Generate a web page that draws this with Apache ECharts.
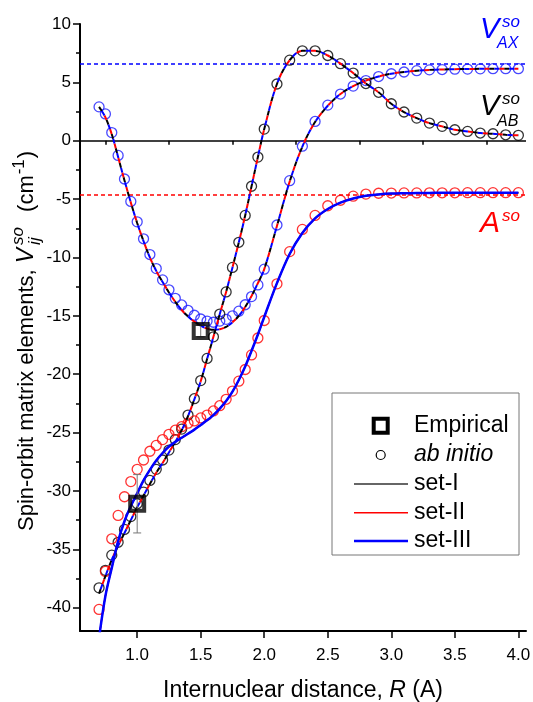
<!DOCTYPE html>
<html>
<head>
<meta charset="utf-8">
<script src="https://cdn.jsdelivr.net/npm/echarts@6/dist/echarts.min.js"></script>
<style>html,body{margin:0;padding:0;background:#fff}#c{width:533px;height:702px}</style>
</head>
<body>
<div id="c"></div>
<script>
// ---------------- data ----------------
const R = [0.70,0.75,0.80,0.85,0.90,0.95,1.00,1.05,1.10,1.15,1.20,1.25,1.30,1.35,1.40,1.45,1.50,1.55,1.60,1.65,1.70,1.75,1.80,1.85,1.90,1.95,2.00,
           2.1,2.2,2.3,2.4,2.5,2.6,2.7,2.8,2.9,3.0,3.1,3.2,3.3,3.4,3.5,3.6,3.7,3.8,3.9,4.0];
// ab initio points
const vAX = [2.9,2.3,0.7,-1.26,-3.28,-5.2,-6.95,-8.4,-9.75,-10.95,-11.92,-12.77,-13.5,-14.07,-14.53,-14.95,-15.27,-15.45,-15.55,-15.45,-15.3,-15.0,-14.6,-14.05,-13.35,-12.35,-11.0,
             -7.22,-3.42,-0.47,1.65,3.05,4.0,4.68,5.15,5.5,5.74,5.89,6.0,6.07,6.1,6.13,6.14,6.16,6.17,6.17,6.17];
const vAB = [-38.3,-36.8,-35.5,-34.4,-33.3,-32.2,-31.1,-30.1,-29.1,-28.15,-27.35,-26.5,-25.6,-24.7,-23.5,-22.1,-20.55,-18.65,-16.8,-14.85,-12.95,-10.85,-8.7,-6.4,-3.9,-1.4,1.0,
             4.86,6.9,7.7,7.7,7.3,6.6,5.8,4.9,4.15,3.17,2.46,1.94,1.51,1.23,0.94,0.8,0.66,0.6,0.51,0.46];
const aSO = [-40.15,-36.9,-34.1,-32.1,-30.5,-29.2,-28.15,-27.35,-26.6,-26.1,-25.6,-25.15,-24.8,-24.5,-24.2,-24.0,-23.75,-23.5,-23.15,-22.7,-22.15,-21.45,-20.6,-19.6,-18.35,-16.9,-15.4,
             -12.26,-9.5,-7.6,-6.4,-5.57,-5.1,-4.75,-4.57,-4.5,-4.48,-4.47,-4.47,-4.46,-4.46,-4.46,-4.45,-4.45,-4.45,-4.45,-4.45];
// fitted curves (set-I, set-II, set-III nearly coincide)
const fitAX = [2.9,2.0,0.55,-1.4,-3.4,-5.3,-7.05,-8.6,-10.0,-11.15,-12.1,-13.0,-13.8,-14.5,-15.05,-15.5,-15.85,-16.1,-16.2,-16.15,-15.95,-15.55,-15.0,-14.25,-13.3,-12.2,-11.0,
               -7.3,-3.5,-0.5,1.6,3.0,4.0,4.68,5.15,5.5,5.74,5.89,6.0,6.07,6.1,6.13,6.14,6.16,6.17,6.17,6.17];
const fitAB = [-38.8,-37.3,-35.9,-34.7,-33.6,-32.5,-31.4,-30.4,-29.4,-28.45,-27.6,-26.7,-25.8,-24.8,-23.6,-22.15,-20.6,-18.7,-16.8,-14.85,-12.95,-10.85,-8.7,-6.4,-3.9,-1.4,1.0,
               4.86,6.9,7.7,7.7,7.3,6.6,5.8,4.9,4.15,3.17,2.46,1.94,1.51,1.23,0.94,0.8,0.66,0.6,0.51,0.46];
const fitA  = [-42.6,-39.0,-36.6,-34.3,-32.6,-31.3,-30.2,-29.1,-28.2,-27.4,-26.75,-26.2,-25.8,-25.45,-25.1,-24.75,-24.35,-23.95,-23.5,-22.95,-22.3,-21.5,-20.5,-19.35,-18.0,-16.6,-15.1,
               -12.2,-9.7,-7.9,-6.65,-5.85,-5.3,-4.95,-4.72,-4.6,-4.53,-4.5,-4.48,-4.47,-4.46,-4.46,-4.45,-4.45,-4.45,-4.45,-4.45];
// empirical values with error bars
const empR = [1.0, 1.5];
const empV = [-31.1, -16.3];
const empErr = [2.5, 0.5];
// asymptotes
const asymAX = 6.6;
const asymA = -4.65;
// axis ticks
const xMajor = [1.0,1.5,2.0,2.5,3.0,3.5,4.0];
const xMinor = [0.75,1.25,1.75,2.25,2.75,3.25,3.75];
const yMajor = [-40,-35,-30,-25,-20,-15,-10,-5,0,5,10];
const yMinor = [-37.5,-32.5,-27.5,-22.5,-17.5,-12.5,-7.5,-2.5,2.5,7.5];

// ---------------- chart ----------------
const FONT = '"Liberation Sans", Arial, Helvetica, sans-serif';
const BLUE = '#0000ff', RED = '#ff0000', BLACK = '#000000';
const pairs = (xs, ys) => xs.map((x, i) => [x, ys[i]]);

const cv = document.createElement('canvas').getContext('2d');
function tw(t, f) { cv.font = f; return cv.measureText(t).width; }

const chart = echarts.init(document.getElementById('c'), null, {renderer: 'canvas', width: 533, height: 702});

function circles(name, ys, color) {
  return {type: 'scatter', name, data: pairs(R, ys), symbol: 'circle', symbolSize: 10, z: 2,
    itemStyle: {color: 'rgba(0,0,0,0)', borderColor: color, borderWidth: 1.3}, silent: true};
}
function fitLine(ys, color, dashOff, dashed, width, z) {
  return {type: 'line', data: pairs(R, ys), symbol: 'none', smooth: 0.35, z: z || 3, silent: true,
    lineStyle: {color, width: width || 2, type: dashed ? [5, 10] : 'solid', dashOffset: dashOff || 0}};
}

const series = [
  Object.assign(circles('ab initio AX', vAX, '#1a1aff'), {
    markLine: {silent: true, symbol: ['none', 'none'], label: {show: false}, z: 1,
      data: [
        {yAxis: 0, lineStyle: {color: BLACK, type: 'solid', width: 1.6}},
        {yAxis: asymAX, lineStyle: {color: BLUE, type: [4, 3], width: 1.5}},
        {yAxis: asymA, lineStyle: {color: RED, type: [4, 3], width: 1.5}}
      ]}
  }),
  circles('ab initio AB', vAB, BLACK),
  circles('ab initio A', aSO, RED),
  // V_AX fits
  fitLine(fitAX, BLACK, 0, true), fitLine(fitAX, RED, 5, true), fitLine(fitAX, BLUE, 10, true),
  // V_AB fits
  fitLine(fitAB, BLACK, 0, true), fitLine(fitAB, RED, 5, true), fitLine(fitAB, BLUE, 10, true),
  // A fits
  fitLine(fitA, BLACK, 0, false, 1.2), fitLine(fitA, RED, 0, false, 1.5), fitLine(fitA, BLUE, 0, false, 2.5, 4),
  // error bars
  {type: 'custom', z: 5, silent: true, data: empR.map((x, i) => [x, empV[i], empErr[i]]),
    renderItem: function (params, api) {
      const x = api.value(0), y = api.value(1), e = api.value(2);
      const t = api.coord([x, y + e]), b = api.coord([x, y - e]);
      const st = {stroke: '#777', lineWidth: 1};
      return {type: 'group', children: [
        {type: 'line', shape: {x1: t[0], y1: t[1], x2: b[0], y2: b[1]}, style: st},
        {type: 'line', shape: {x1: t[0] - 4, y1: t[1], x2: t[0] + 4, y2: t[1]}, style: st},
        {type: 'line', shape: {x1: b[0] - 4, y1: b[1], x2: b[0] + 4, y2: b[1]}, style: st}
      ]};
    }},
  {type: 'scatter', name: 'Empirical', data: pairs(empR, empV), symbol: 'rect', symbolSize: 14, z: 6, silent: true,
    itemStyle: {color: 'rgba(0,0,0,0)', borderColor: BLACK, borderWidth: 4}}
];

// y-axis title (rotated) with stacked super/subscripts
const F22 = '22px ' + FONT, F23i = 'italic 23px ' + FONT, F17i = 'italic 17px ' + FONT, F17 = '17px ' + FONT;
const t1 = 'Spin-orbit matrix elements, ';
const w1 = tw(t1, F22);
const wV = tw('V', F23i);
const xS = w1 + wV + 3;
const wS = Math.max(tw('so', F17i), tw('ij', F17i));
const xC = xS + wS + 15;
const wC = tw('(cm', F22);
const wM = tw('-1', F17);
function gt(text, x, y, font, fill, align) {
  return {type: 'text', x, y, silent: true, style: {text, font, fill: fill || BLACK, align: align || 'left', verticalAlign: 'middle'}};
}
const yTitle = {type: 'group', x: 27, y: 531, rotation: Math.PI / 2, silent: true, children: [
  gt(t1, 0, 0, F22), gt('V', w1, 0, F23i), gt('so', xS, -9, F17i), gt('ij', xS, 8, F17i),
  gt('(cm', xC, 0, F22), gt('-1', xC + wC + 1, -8, F17), gt(')', xC + wC + wM + 2, 0, F22)
]};

// curve labels
const labels = [
  gt('V', 480, 29.5, 'italic 29px ' + FONT, BLUE), gt('so', 502, 22, 'italic 17px ' + FONT, BLUE), gt('AX', 497, 44, 'italic 16px ' + FONT, BLUE),
  gt('V', 480, 107, 'italic 29px ' + FONT, BLACK), gt('so', 502, 99, 'italic 17px ' + FONT, BLACK), gt('AB', 497, 122, 'italic 16px ' + FONT, BLACK),
  gt('A', 480, 224, 'italic 30px ' + FONT, RED), gt('so', 502, 216, 'italic 17px ' + FONT, RED)
];

// legend
const LX = 414, LF = '23px ' + FONT, LFi = 'italic 23px ' + FONT;
const legend = {type: 'group', silent: true, children: [
  {type: 'rect', shape: {x: 332, y: 393, width: 187, height: 162}, style: {fill: '#fff', stroke: '#777', lineWidth: 1}},
  {type: 'rect', shape: {x: 373.7, y: 418.7, width: 14, height: 14}, style: {fill: 'none', stroke: BLACK, lineWidth: 4}},
  gt('Empirical', LX, 426, LF),
  {type: 'circle', shape: {cx: 380.7, cy: 455, r: 4.5}, style: {fill: 'none', stroke: BLACK, lineWidth: 1.2}},
  gt('ab initio', LX, 455, LFi),
  {type: 'line', shape: {x1: 354, y1: 484, x2: 408, y2: 484}, style: {stroke: '#333', lineWidth: 1.5}},
  gt('set-I', LX, 484, LF),
  {type: 'line', shape: {x1: 354, y1: 512.7, x2: 408, y2: 512.7}, style: {stroke: RED, lineWidth: 1.5}},
  gt('set-II', LX, 512.7, LF),
  {type: 'line', shape: {x1: 354, y1: 541, x2: 408, y2: 541}, style: {stroke: BLUE, lineWidth: 2.5}},
  gt('set-III', LX, 541, LF)
]};

const axisCommon = {
  axisLine: {show: true, onZero: false, lineStyle: {color: BLACK, width: 2}},
  splitLine: {show: false}
};

chart.setOption({
  animation: false,
  backgroundColor: '#fff',
  grid: {left: 80, right: 7, top: 24, bottom: 71, containLabel: false, outerBoundsMode: 'none'},
  xAxis: [
    Object.assign({type: 'value', min: 0.55, max: 4.06, position: 'bottom',
      name: 'Internuclear distance, {i|R} (A)', nameLocation: 'middle', nameGap: 48,
      nameTextStyle: {fontSize: 23, fontFamily: FONT, color: BLACK, rich: {i: {fontSize: 23, fontFamily: FONT, fontStyle: 'italic', color: BLACK}}},
      axisTick: {show: true, customValues: xMajor, length: 7, lineStyle: {color: BLACK, width: 1.5}},
      axisLabel: {customValues: xMajor, fontSize: 17, fontFamily: FONT, color: BLACK, margin: 16, formatter: v => v.toFixed(1)}
    }, axisCommon),
    {type: 'value', min: 0.55, max: 4.06, position: 'bottom', gridIndex: 0,
      axisLine: {show: false}, splitLine: {show: false}, axisLabel: {show: false},
      axisTick: {show: true, customValues: xMinor, length: 4, lineStyle: {color: BLACK, width: 1.5}}}
  ],
  yAxis: [
    Object.assign({type: 'value', min: -42, max: 10, position: 'left',
      axisTick: {show: true, customValues: yMajor, length: 7, lineStyle: {color: BLACK, width: 1.5}},
      axisLabel: {customValues: yMajor, fontSize: 17, fontFamily: FONT, color: BLACK, margin: 9}
    }, axisCommon),
    {type: 'value', min: -42, max: 10, position: 'left', gridIndex: 0,
      axisLine: {show: false}, splitLine: {show: false}, axisLabel: {show: false},
      axisTick: {show: true, customValues: yMinor, length: 4, lineStyle: {color: BLACK, width: 1.5}}}
  ],
  series: series,
  graphic: [yTitle, legend].concat(labels)
});
</script>
</body>
</html>
